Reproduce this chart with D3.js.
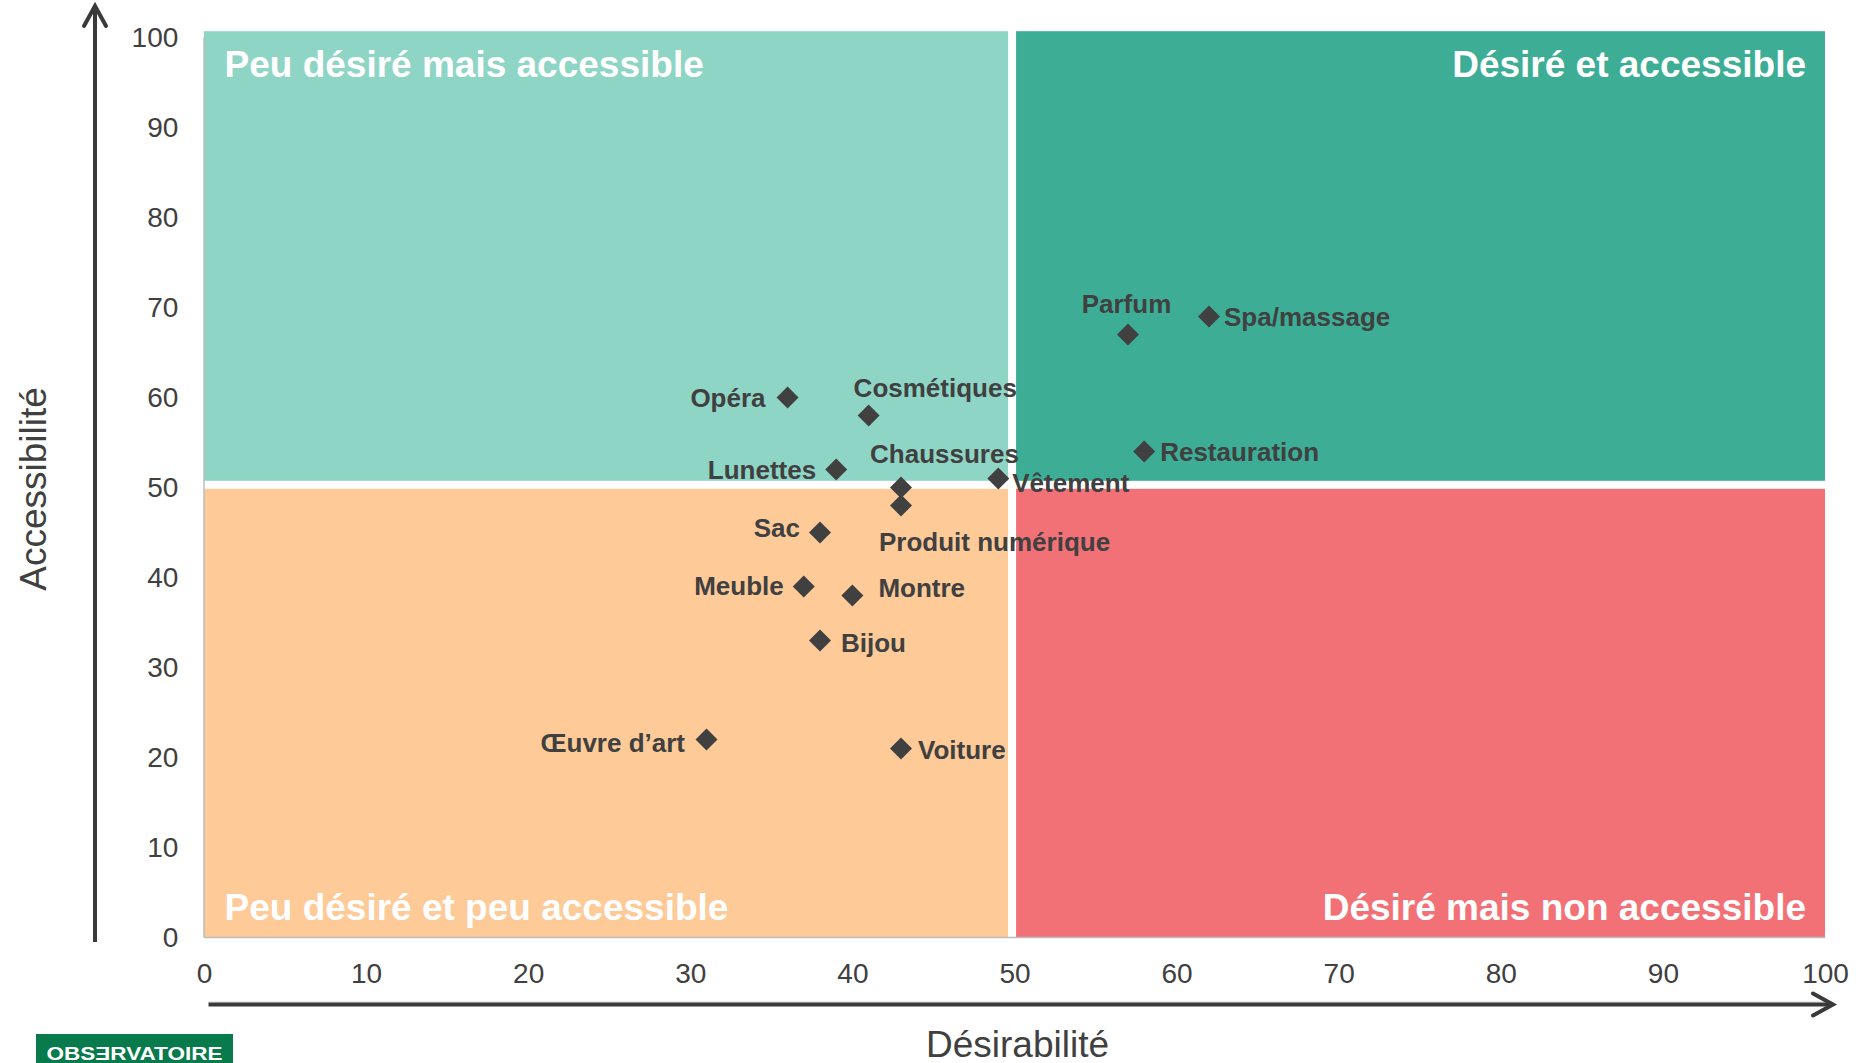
<!DOCTYPE html>
<html lang="fr">
<head>
<meta charset="utf-8">
<script src="https://cdn.jsdelivr.net/npm/d3@7"></script>
<style>
  html, body { margin: 0; padding: 0; background: #ffffff; }
  svg { display: block; font-family: "Liberation Sans", Arial, sans-serif; }
</style>
</head>
<body>
<svg id="chart" width="1860" height="1063"></svg>
<script>
// ---------- DATA ----------
const categories    = ["Opéra", "Cosmétiques", "Lunettes", "Chaussures", "Produit numérique", "Vêtement", "Sac", "Meuble", "Montre", "Bijou", "Œuvre d’art", "Voiture", "Parfum", "Spa/massage", "Restauration"];
const desirability  = [36, 41, 39, 43, 43, 49, 38, 37, 40, 38, 31, 43, 57, 62, 58];
const accessibility = [60, 58, 52, 50, 48, 51, 45, 39, 38, 33, 22, 21, 67, 69, 54];
const xTicks = [0, 10, 20, 30, 40, 50, 60, 70, 80, 90, 100];
const yTicks = [0, 10, 20, 30, 40, 50, 60, 70, 80, 90, 100];
const quadrantNames = ["Peu désiré mais accessible", "Désiré et accessible", "Peu désiré et peu accessible", "Désiré mais non accessible"];
const xTitle = "Désirabilité";
const yTitle = "Accessibilité";
const logoText = "OBSƎRVATOIRE";
// quadrant extents in data units
const quadX = [0, 49.85, 100];
const quadY = [0, 50.3, 100.7];

// ---------- LAYOUT / STYLE ----------
const W = 1860, H = 1063;
const plot = { left: 204, right: 1825, top: 37.5, bottom: 937.5 };
const quadColors = ["#8fd5c6", "#3dad96", "#fdca98", "#f27176"];
const ink = "#404040";
const gap = 4; // half of the white separator
// label placement: [anchor, dx, dy(baseline)]
const labelPlacement = {
  "Opéra": ["end", -22, 9.5],
  "Cosmétiques": ["start", -15, -18.5],
  "Lunettes": ["end", -20, 9.5],
  "Chaussures": ["start", -31, -25],
  "Produit numérique": ["start", -22, 45.5],
  "Vêtement": ["start", 14, 13],
  "Sac": ["end", -20, 4.5],
  "Meuble": ["end", -20, 8],
  "Montre": ["start", 26, 1.5],
  "Bijou": ["start", 21, 11],
  "Œuvre d’art": ["end", -21.5, 12.5],
  "Voiture": ["start", 17, 10.5],
  "Parfum": ["middle", -1.5, -22],
  "Spa/massage": ["start", 15, 9.5],
  "Restauration": ["start", 16, 9.5]
};

const svg = d3.select("#chart");
const x = d3.scaleLinear().domain([0, 100]).range([plot.left, plot.right]);
const y = d3.scaleLinear().domain([0, 100]).range([plot.bottom, plot.top]);

// ---------- QUADRANTS ----------
const quads = [
  { x0: quadX[0], x1: quadX[1], y0: quadY[1], y1: quadY[2], name: quadrantNames[0], c: quadColors[0], lx: "l", ly: "t" },
  { x0: quadX[1], x1: quadX[2], y0: quadY[1], y1: quadY[2], name: quadrantNames[1], c: quadColors[1], lx: "r", ly: "t" },
  { x0: quadX[0], x1: quadX[1], y0: quadY[0], y1: quadY[1], name: quadrantNames[2], c: quadColors[2], lx: "l", ly: "b" },
  { x0: quadX[1], x1: quadX[2], y0: quadY[0], y1: quadY[1], name: quadrantNames[3], c: quadColors[3], lx: "r", ly: "b" }
];
const gq = svg.append("g");
gq.selectAll("rect").data(quads).join("rect")
  .attr("x", d => x(d.x0) + (d.x0 === quadX[1] ? gap : 0))
  .attr("width", d => x(d.x1) - x(d.x0) - gap)
  .attr("y", d => y(d.y1))
  .attr("height", d => y(d.y0) - y(d.y1) - gap)
  .attr("transform", d => d.y0 === quadY[1] ? null : `translate(0,${gap})`)
  .attr("fill", d => d.c);

// light grey axis lines
svg.append("line").attr("x1", x(0)).attr("x2", x(0)).attr("y1", y(100)).attr("y2", y(0))
  .attr("stroke", "#bdbdbd").attr("stroke-width", 1.5);
svg.append("line").attr("x1", x(0)).attr("x2", x(100)).attr("y1", y(0)).attr("y2", y(0))
  .attr("stroke", "#bdbdbd").attr("stroke-width", 1.5);

// quadrant labels
gq.selectAll("text").data(quads).join("text")
  .attr("x", d => d.lx === "l" ? x(d.x0) + 20.5 : x(d.x1) - 19)
  .attr("y", d => d.ly === "t" ? y(d.y1) + 46 : y(d.y0) - 17.5)
  .attr("text-anchor", d => d.lx === "l" ? "start" : "end")
  .attr("fill", "#ffffff")
  .attr("font-weight", "bold")
  .attr("font-size", 37)
  .text(d => d.name);

// ---------- AXES ----------
const xAxis = svg.append("g").attr("transform", `translate(0,${plot.bottom})`)
  .call(d3.axisBottom(x).tickValues(xTicks).tickSize(0).tickPadding(25.5).tickFormat(d3.format("d")));
const yAxis = svg.append("g").attr("transform", `translate(${plot.left},0)`)
  .call(d3.axisLeft(y).tickValues(yTicks).tickSize(0).tickPadding(25.7).tickFormat(d3.format("d")));
[xAxis, yAxis].forEach(a => {
  a.select(".domain").remove();
  a.selectAll("text").attr("font-size", 28).attr("fill", ink)
    .attr("font-family", "\"Liberation Sans\", Arial, sans-serif");
});

// ---------- POINTS ----------
const pts = categories.map((c, i) => ({ name: c, dx: desirability[i], ac: accessibility[i] }));
const diamond = d3.symbol().type(d3.symbolSquare).size(242);
svg.append("g").selectAll("path").data(pts).join("path")
  .attr("d", diamond)
  .attr("transform", d => `translate(${x(d.dx)},${y(d.ac)}) rotate(45)`)
  .attr("fill", ink);

svg.append("g").selectAll("text").data(pts).join("text")
  .attr("x", d => x(d.dx) + labelPlacement[d.name][1])
  .attr("y", d => y(d.ac) + labelPlacement[d.name][2])
  .attr("text-anchor", d => labelPlacement[d.name][0])
  .attr("font-size", 26)
  .attr("font-weight", "bold")
  .attr("fill", ink)
  .text(d => d.name);

// ---------- ARROWS ----------
const arrowColor = "#3a3a3a";
const yArrowX = 95;
svg.append("line").attr("x1", yArrowX).attr("x2", yArrowX).attr("y1", 6).attr("y2", 942)
  .attr("stroke", arrowColor).attr("stroke-width", 4);
svg.append("path").attr("d", `M${yArrowX - 11},26 L${yArrowX},6 L${yArrowX + 11},26`)
  .attr("fill", "none").attr("stroke", arrowColor).attr("stroke-width", 4)
  .attr("stroke-linecap", "round").attr("stroke-linejoin", "miter");

const xArrowY = 1004.5;
svg.append("line").attr("x1", 208.5).attr("x2", 1832).attr("y1", xArrowY - 2.6).attr("y2", xArrowY - 2.6)
  .attr("stroke", "#d6d6d6").attr("stroke-width", 1);
svg.append("line").attr("x1", 208.5).attr("x2", 1832).attr("y1", xArrowY).attr("y2", xArrowY)
  .attr("stroke", arrowColor).attr("stroke-width", 4);
svg.append("path").attr("d", `M1813,${xArrowY - 11} L1833,${xArrowY} L1813,${xArrowY + 11}`)
  .attr("fill", "none").attr("stroke", arrowColor).attr("stroke-width", 4)
  .attr("stroke-linecap", "round").attr("stroke-linejoin", "miter");

// ---------- TITLES ----------
svg.append("text").attr("x", x(50) + 3).attr("y", 1056.5)
  .attr("text-anchor", "middle").attr("font-size", 37).attr("fill", ink).text(xTitle);
svg.append("text").attr("transform", `translate(45.5,${y(50) + 1.5}) rotate(-90)`)
  .attr("text-anchor", "middle").attr("font-size", 37).attr("fill", ink).text(yTitle);

// ---------- LOGO ----------
svg.append("rect").attr("x", 36).attr("y", 1034).attr("width", 197).attr("height", 29).attr("fill", "#087a4b");
svg.append("text").attr("x", 46.5).attr("y", 1060)
  .attr("font-size", 18).attr("font-weight", "bold").attr("fill", "#ffffff")
  .attr("textLength", 176).attr("lengthAdjust", "spacingAndGlyphs")
  .text(logoText);
</script>
</body>
</html>
